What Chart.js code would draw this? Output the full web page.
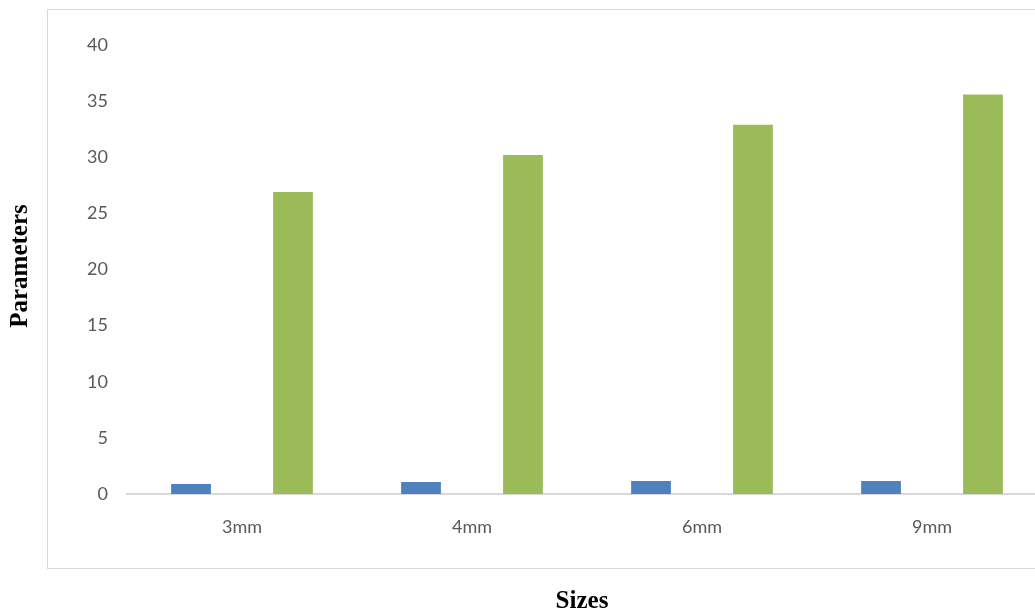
<!DOCTYPE html>
<html>
<head>
<meta charset="utf-8">
<script src="https://cdn.jsdelivr.net/npm/chart.js@4.4.0/dist/chart.umd.min.js"></script>
<style>
  html, body { margin: 0; padding: 0; background: #ffffff; overflow: hidden; }
  #wrap { width: 1035px; height: 616px; overflow: hidden; position: relative; }
  #chart { position: absolute; left: 0; top: 0; }
</style>
</head>
<body>
<div id="wrap">
  <canvas id="chart" width="1060" height="616" style="width:1060px;height:616px;"></canvas>
</div>
<script>
// Data
const sizes = ['3mm', '4mm', '6mm', '9mm'];
const seriesBlue = [0.9, 1.07, 1.16, 1.16];
const seriesMiddle = [0, 0, 0, 0];
const seriesGreen = [26.9, 30.2, 32.9, 35.6];
const yTicks = [0, 5, 10, 15, 20, 25, 30, 35, 40];

const tickColor = '#595959';
const tickFont = { family: 'Lato', size: 18 };

// Outer frame + axis titles
const framePlugin = {
  id: 'frame',
  beforeDraw(chart) {
    const ctx = chart.ctx;
    ctx.save();
    ctx.fillStyle = '#ffffff';
    ctx.fillRect(0, 0, chart.width, chart.height);
    ctx.strokeStyle = '#d9d9d9';
    ctx.lineWidth = 1;
    ctx.strokeRect(47.5, 9.5, 1100, 559);
    ctx.restore();
  },
  afterDraw(chart) {
    const ctx = chart.ctx;
    ctx.save();
    ctx.fillStyle = '#000000';
    ctx.font = 'bold 25px "Liberation Serif"';
    ctx.textAlign = 'center';
    ctx.textBaseline = 'middle';
    ctx.fillText('Sizes', 582, 602);
    ctx.translate(21, 266);
    ctx.rotate(-Math.PI / 2);
    ctx.fillText('Parameters', 0, 0);
    ctx.restore();
  }
};

new Chart(document.getElementById('chart'), {
  type: 'bar',
  data: {
    labels: sizes,
    datasets: [
      { label: 'Series 1', data: seriesBlue, backgroundColor: '#4F81BD' },
      { label: 'Series 2', data: seriesMiddle, backgroundColor: '#C0504D' },
      { label: 'Series 3', data: seriesGreen, backgroundColor: '#9BBB59' }
    ]
  },
  options: {
    responsive: false,
    animation: false,
    devicePixelRatio: 1,
    categoryPercentage: 0.665,
    barPercentage: 0.78,
    layout: { padding: { left: 47, top: 45, right: 13, bottom: 47 } },
    plugins: { legend: { display: false }, tooltip: { enabled: false } },
    scales: {
      x: {
        grid: { display: false, drawTicks: false },
        border: { display: true, color: '#d9d9d9', width: 2 },
        ticks: { color: tickColor, font: tickFont, padding: 22 },
        afterFit(scale) { scale.height = 75; }
      },
      y: {
        min: 0,
        max: 40,
        afterBuildTicks(scale) { scale.ticks = yTicks.map(v => ({ value: v })); },
        grid: { display: false, drawTicks: false },
        border: { display: false },
        ticks: { color: tickColor, font: tickFont, padding: 19 },
        afterFit(scale) { scale.width = 80; }
      }
    }
  },
  plugins: [framePlugin]
});
</script>
</body>
</html>
